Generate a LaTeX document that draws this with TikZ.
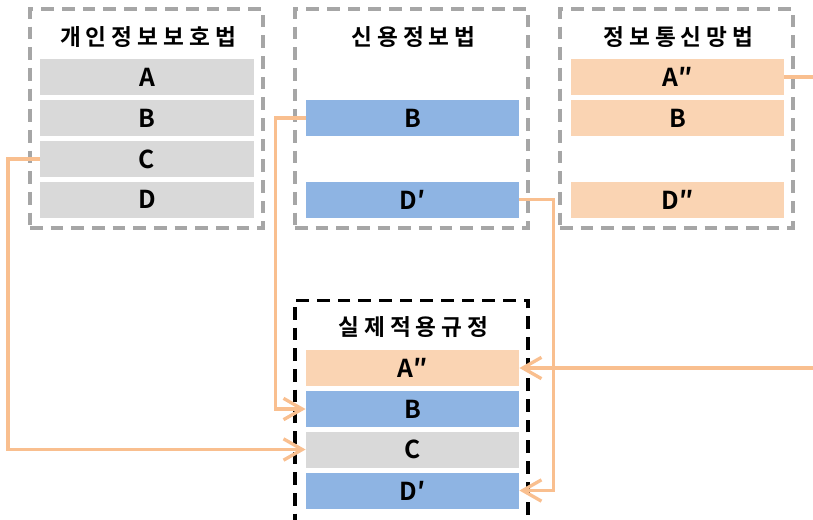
\documentclass[tikz,border=0pt]{standalone}
\usepackage{fontspec}
\setmainfont{Noto Sans CJK KR}[BoldFont={Noto Sans CJK KR Bold}]
\usetikzlibrary{arrows.meta}
\definecolor{grpgray}{HTML}{A6A6A6}
\definecolor{bargray}{HTML}{D9D9D9}
\definecolor{barblue}{HTML}{8EB4E3}
\definecolor{barorange}{HTML}{FAD4B3}
\definecolor{connorange}{HTML}{F9BF8F}
\tikzset{
  grp/.style={draw=grpgray, line width=2.6pt, dash pattern=on 9.5pt off 6pt, minimum width=175pt, inner sep=0},
  grpblack/.style={grp, draw=black},
  bar/.style={minimum width=160pt, minimum height=27pt, inner sep=0, font=\fontsize{18.5}{18.5}\selectfont\bfseries},
  gbar/.style={bar, fill=bargray},
  bbar/.style={bar, fill=barblue},
  obar/.style={bar, fill=barorange},
  ttl/.style={inner sep=0, font=\fontsize{17}{17}\selectfont\bfseries\addfontfeatures{LetterSpace=22}},
  conn/.style={draw=connorange, line width=2.5pt},
  arr/.style={-{Straight Barb[length=14pt,width=16pt]}}
}
\begin{document}
\begin{tikzpicture}[x=0.75pt,y=-0.75pt]
\useasboundingbox (0,0) rectangle (813,519);
\begin{scope}
\clip (0,0) rectangle (813,519);
% group boxes
\node[grp, minimum height=164pt] (g1) at (146.5,118.5) {};
\node[grp, minimum height=164pt] (g2) at (411.5,118.5) {};
\node[grp, minimum height=164pt] (g3) at (676.5,118.5) {};
\node[grpblack, minimum height=172pt] (g4) at (411.5,415) {};
% titles
\node[ttl] (t1) at (148,37) {개인정보보호법};
\node[ttl] (t2) at (413.5,37) {신용정보법};
\node[ttl] (t3) at (678.5,37) {정보통신망법};
\node[ttl] (t4) at (413.5,327) {실제적용규정};
% bars group 1
\node[gbar] (a1) at (147,77) {A};
\node[gbar] (b1) at (147,118) {B};
\node[gbar] (c1) at (147,159) {C};
\node[gbar] (d1) at (147,199.5) {D};
% group 2
\node[bbar] (b2) at (412.5,118) {B};
\node[bbar] (d2) at (412.5,199.5) {D′};
% group 3
\node[obar] (a3) at (677.5,77) {A″};
\node[obar] (b3) at (677.5,118) {B};
\node[obar] (d3) at (677.5,199.5) {D″};
% group 4
\node[obar] (a4) at (412.5,368) {A″};
\node[bbar] (b4) at (412.5,409) {B};
\node[gbar] (c4) at (412.5,449.5) {C};
\node[bbar] (d4) at (412.5,490.5) {D′};
% connectors
\draw[conn, arr] (c1.west) -- ++(-32,0) |- (c4.west);
\draw[conn, arr] (b2.west) -- ++(-30,0) |- (b4.west);
\draw[conn, arr] (d2.east) -- ++(34,0) |- (d4.east);
\draw[conn, arr] (a3.east) -- ++(50,0) |- (a4.east);
\end{scope}
\end{tikzpicture}
\end{document}
